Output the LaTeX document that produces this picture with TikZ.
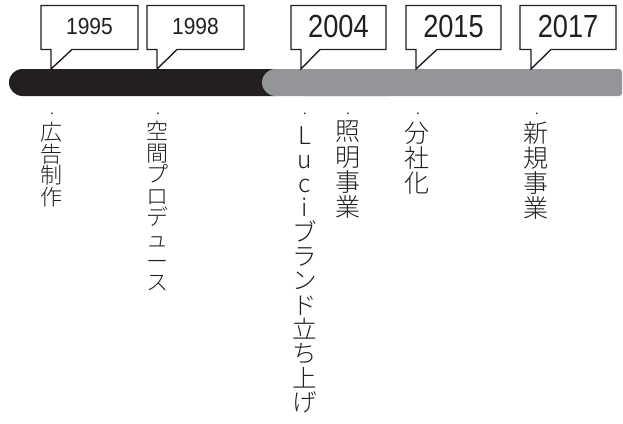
\documentclass[tikz,border=0pt]{standalone}
\usepackage{fontspec}
\setmainfont{Liberation Sans}
\IfFontExistsTF{Noto Sans CJK JP Light}{\newfontfamily\cjk{Noto Sans CJK JP Light}}{\newfontfamily\cjk{Noto Sans CJK JP}}
\definecolor{barblack}{HTML}{231F20}
\definecolor{bargray}{HTML}{939598}
\definecolor{linecol}{HTML}{231F20}
\newcommand{\yrsmall}[1]{\scalebox{0.9}[1]{\fontsize{23.3}{23.3}\selectfont #1}}
\newcommand{\yrbig}[1]{\scalebox{0.85}[1]{\fontsize{32}{32}\selectfont #1}}
\begin{document}
\begin{tikzpicture}[x=1pt,y=-1pt,
  callout/.style={draw=linecol,line width=1.4pt,fill=white,line join=miter},
  yearnode/.style={inner sep=0pt,text=linecol},
  colsmall/.style={inner sep=0pt,anchor=north,align=center,text=linecol,font=\cjk\fontsize{22}{21.6}\selectfont},
  colbig/.style={inner sep=0pt,anchor=north,align=center,text=linecol,font=\cjk\fontsize{25}{25.2}\selectfont},
  colluci/.style={colbig,font=\cjk\fontsize{24.5}{24.3}\selectfont},
  dotnode/.style={inner sep=0pt,text=linecol,font=\cjk\fontsize{17}{17}\selectfont}]
\useasboundingbox (0,0) rectangle (623,423);
% bar
\fill[barblack,rounded corners=13.5pt] (9,69) rectangle (290,96);
\fill[bargray,rounded corners=13.5pt] (262,69) rectangle (400,96);
\fill[bargray,rounded corners=3pt] (300,69) rectangle (622,96);
% callouts
\foreach \xa/\xb/\tx/\tr/\nm in {41/138/51/72/a,147/244/157/177/b,291/386/301/320/c,406/501/416/437/d,520/616/531/551/e}{
  \draw[callout] (\xa,5.5) -- (\xb,5.5) -- (\xb,49.5) -- (\tr,49.5) -- (\tx,69) -- (\tx,49.5) -- (\xa,49.5) -- cycle;
  \coordinate (box\nm) at ({(\xa+\xb)/2},26.7);
}
\node[yearnode] (y1995) at (boxa) {\yrsmall{1995}};
\node[yearnode] (y1998) at (boxb) {\yrsmall{1998}};
\node[yearnode] (y2004) at (boxc) {\yrbig{2004}};
\node[yearnode] (y2015) at (boxd) {\yrbig{2015}};
\node[yearnode] (y2017) at (boxe) {\yrbig{2017}};
% dots
\node[dotnode] (d1) at (52,114) {.};
\node[dotnode] (d2) at (158,114) {.};
\node[dotnode] (d3) at (305,114) {.};
\node[dotnode] (d4) at (348,114) {.};
\node[dotnode] (d5) at (418,114) {.};
\node[dotnode] (d6) at (537,114) {.};
% columns
\node[colsmall] (c1) at (51,122) {広\\告\\制\\作};
\node[colsmall] (c2) at (157,121) {空\\間\\プ\\ロ\\デ\\ュ\\ー\\ス};
\node[colluci] (c3) at (305,126) {L\\u\\c\\i\\ブ\\ラ\\ン\\ド\\立\\ち\\上\\げ};
\node[colbig] (c4) at (348,121) {照\\明\\事\\業};
\node[colbig] (c5) at (417,122) {分\\社\\化};
\node[colbig] (c6) at (536,121) {新\\規\\事\\業};
\end{tikzpicture}
\end{document}
